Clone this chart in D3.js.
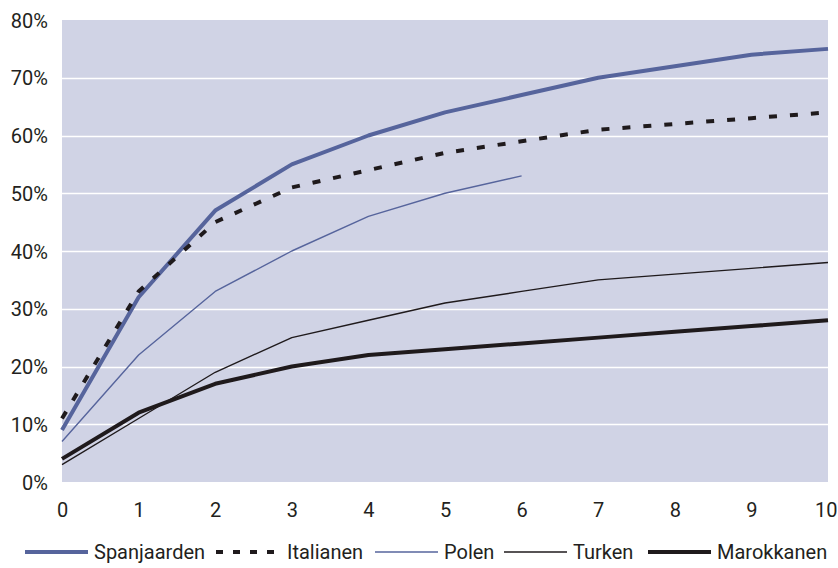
<!DOCTYPE html>
<html><head><meta charset="utf-8">
<script src="https://cdn.jsdelivr.net/npm/d3@7"></script>
<style>body{margin:0;background:#fff;} text{font-family:Roboto, "Liberation Sans", sans-serif;fill:#231f20;}</style>
</head><body>
<svg id="c" width="838" height="568"></svg>
<script>
const years = [0,1,2,3,4,5,6,7,8,9,10];
const yTicks = [0,10,20,30,40,50,60,70,80];
const seriesNames = ["Spanjaarden","Italianen","Polen","Turken","Marokkanen"];
const spanjaarden = [9,32,47,55,60,64,67,70,72,74,75];
const italianen = [11,33,45,51,54,57,59,61,62,63,64];
const polen = [7,22,33,40,46,50,53];
const turken = [3,11,19,25,28,31,33,35,36,37,38];
const marokkanen = [4,12,17,20,22,23,24,25,26,27,28];

(function(){
const blue = "#56649c", dark = "#1f1a1c";
const styles = [
  {color: blue, w: 4, dash: null},
  {color: dark, w: 4, dash: "8,13"},
  {color: blue, w: 1.4, dash: null},
  {color: dark, w: 1.4, dash: null},
  {color: dark, w: 4, dash: null}
];
const data = [spanjaarden, italianen, polen, turken, marokkanen];
const fs = "20px";

const svg = d3.select("#c");
const pL = 62, pR = 828, pT = 20, pB = 482;
const x = d3.scaleLinear().domain([0,10]).range([pL,pR]);
const y = d3.scaleLinear().domain([0,80]).range([pB,pT]);

svg.append("rect").attr("x",pL).attr("y",pT).attr("width",pR-pL).attr("height",pB-pT).attr("fill","#d0d3e5");

svg.append("g").selectAll("line").data(yTicks.filter(d=>d>0&&d<80)).join("line")
  .attr("x1",pL).attr("x2",pR).attr("y1",d=>Math.round(y(d))+0.5).attr("y2",d=>Math.round(y(d))+0.5)
  .attr("stroke","#fff").attr("stroke-width",1.5);

const yAxis = svg.append("g").attr("transform",`translate(${pL},0)`)
  .call(d3.axisLeft(y).tickValues(yTicks).tickFormat(d=>d+"%").tickSize(0).tickPadding(14));
yAxis.select(".domain").remove();
yAxis.selectAll("text").style("font-size",fs).attr("dy","0.35em");

const xAxis = svg.append("g").attr("transform",`translate(0,${pB})`)
  .call(d3.axisBottom(x).tickValues(years).tickFormat(d3.format("d")).tickSize(0).tickPadding(21));
xAxis.select(".domain").remove();
xAxis.selectAll("text").style("font-size",fs);
xAxis.selectAll("text").filter(d=>d===10).attr("text-anchor","end").attr("x",9);

const line = d3.line().x((d,i)=>x(years[i])).y(d=>y(d));
data.forEach((s,k)=>{
  const st = styles[k];
  svg.append("path").datum(s).attr("d",line).attr("fill","none")
    .attr("stroke",st.color).attr("stroke-width",st.w)
    .attr("stroke-dasharray",st.dash).attr("stroke-linejoin","round");
});

const legX = [25,216,375,504,648];
const ly = 552;
seriesNames.forEach((n,k)=>{
  const st = styles[k];
  const g = svg.append("g");
  g.append("line").attr("x1",legX[k]).attr("x2",legX[k]+(k===1?67:63)).attr("y1",ly).attr("y2",ly)
    .attr("stroke",st.color).attr("stroke-width",st.w).attr("stroke-dasharray",k===1?"7,10":null);
  g.append("text").attr("x",legX[k]+(k===1?71:69)).attr("y",ly).attr("dy","0.35em")
    .style("font-size",fs).text(n);
});
})();
</script>
</body></html>
